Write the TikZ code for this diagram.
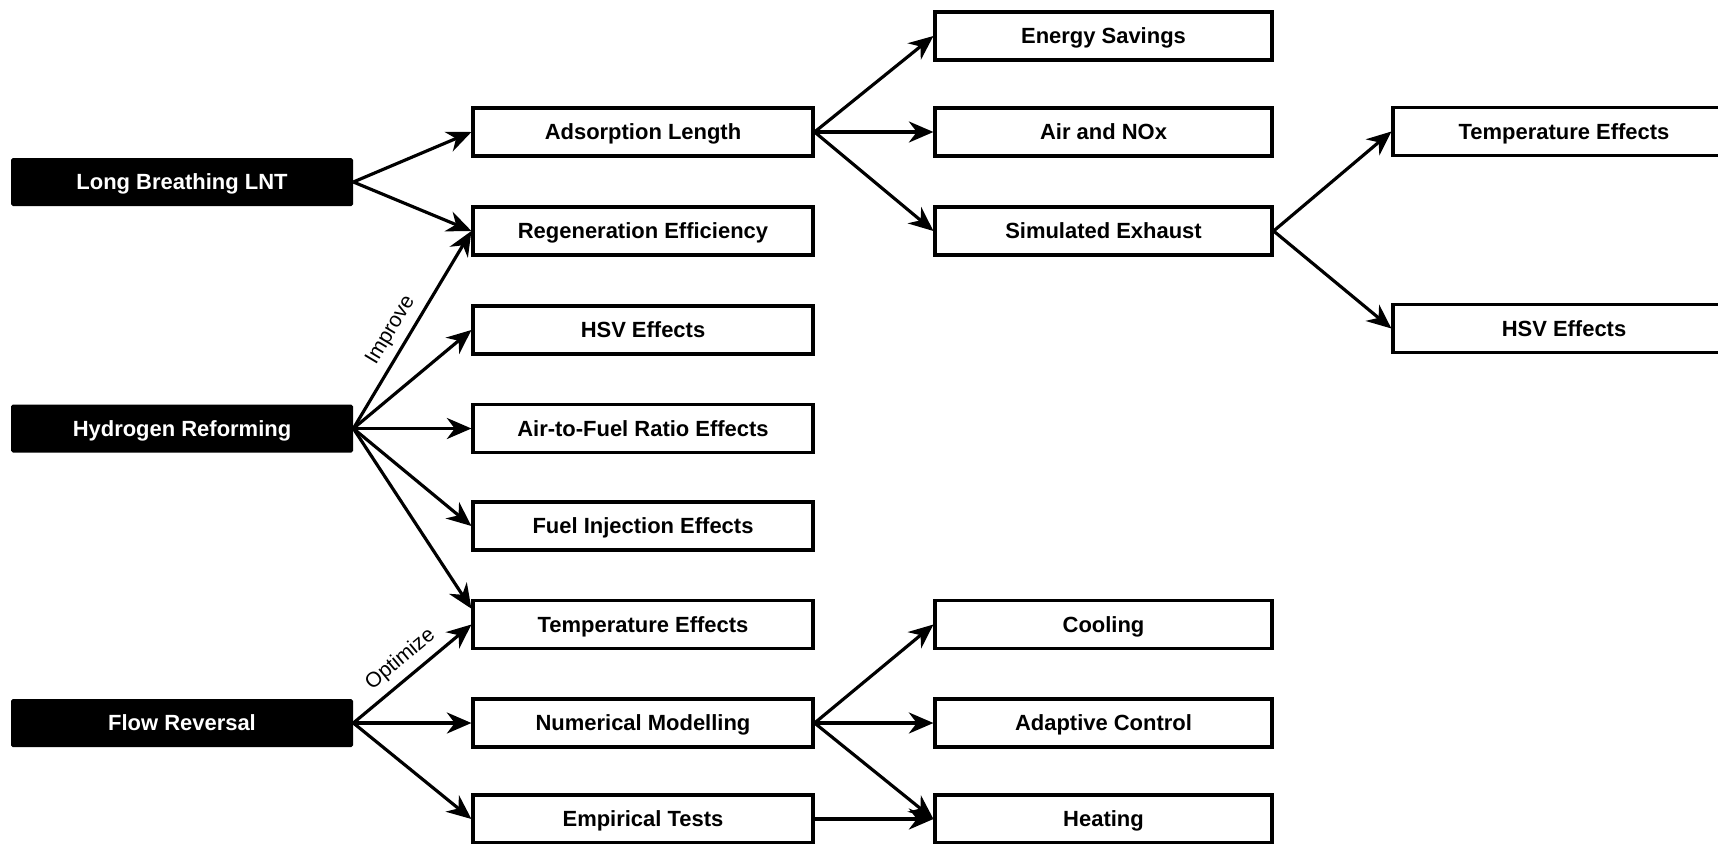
\documentclass[tikz,border=0pt]{standalone}
\usepackage{fontspec}
\setmainfont{Liberation Sans}
\usepackage{tikz}
\usetikzlibrary{calc}
\usetikzlibrary{arrows.meta}

\tikzset{
    topic/.style={fill=black, text=white, rounded corners=1pt, minimum width=6.84cm, minimum height=0.96cm, inner sep=0pt, text depth=0.5pt, font=\fontsize{12.5}{15}\selectfont\bfseries},
    item/.style={draw, line width=1.8pt, minimum width=6.8cm, minimum height=0.96cm, inner sep=0pt, text depth=0.5pt, font=\fontsize{12.5}{15}\selectfont\bfseries},
    link/.style={line width=1.8pt, -{Stealth[length=14pt, width=12pt, inset=4.5pt]}},
    tag/.style={sloped, above, inner sep=4pt, font=\fontsize{12}{14}\selectfont}
}

\begin{document}
\begin{tikzpicture}
    \useasboundingbox (0,0) rectangle (34.36,-16.86);

    \node[topic] (lnt) at (3.64, -3.64) {Long Breathing LNT};
    \node[topic] (hyd) at (3.64, -8.57) {Hydrogen Reforming};
    \node[topic] (flow) at (3.64, -14.46) {Flow Reversal};

    \node[item] (adsorb) at (12.86, -2.64) {Adsorption Length};
    \node[item] (regen) at (12.86, -4.62) {Regeneration Efficiency};
    \node[item] (hsv) at (12.86, -6.60) {HSV Effects};
    \node[item] (afr) at (12.86, -8.57) {Air-to-Fuel Ratio Effects};
    \node[item] (fuel) at (12.86, -10.52) {Fuel Injection Effects};
    \node[item] (temp) at (12.86, -12.49) {Temperature Effects};
    \node[item] (model) at (12.86, -14.46) {Numerical Modelling};
    \node[item] (tests) at (12.86, -16.38) {Empirical Tests};

    \node[item, minimum width=6.74cm] (energy) at (22.07, -0.72) {Energy Savings};
    \node[item, minimum width=6.74cm] (nox) at (22.07, -2.64) {Air and NOx};
    \node[item, minimum width=6.74cm] (exhaust) at (22.07, -4.62) {Simulated Exhaust};
    \node[item, minimum width=6.74cm] (cool) at (22.07, -12.49) {Cooling};
    \node[item, minimum width=6.74cm] (adapt) at (22.07, -14.46) {Adaptive Control};
    \node[item, minimum width=6.74cm] (heat) at (22.07, -16.38) {Heating};

    \node[item, minimum width=6.84cm] (exhtemp) at (31.28, -2.63) {Temperature Effects};
    \node[item, minimum width=6.84cm] (exhhsv) at (31.28, -6.57) {HSV Effects};

    \draw[link] (lnt.east) -- (adsorb.west);
    \draw[link] (lnt.east) -- (regen.west);

    \draw[link] (hyd.east) -- node[tag, pos=.45]{Improve} (regen.west);
    \draw[link] (hyd.east) -- (hsv.west);
    \draw[link] (hyd.east) -- (afr.west);
    \draw[link] (hyd.east) -- (fuel.west);
    \draw[link] (hyd.east) -- ([yshift=9pt]temp.west);

    \draw[link] (flow.east) -- node[tag, pos=.5]{Optimize} (temp.west);
    \draw[link] (flow.east) -- (model.west);
    \draw[link] (flow.east) -- (tests.west);

    \draw[link] (adsorb.east) -- (energy.west);
    \draw[link] (adsorb.east) -- (nox.west);
    \draw[link] (adsorb.east) -- (exhaust.west);

    \draw[link] (exhaust.east) -- (exhtemp.west);
    \draw[link] (exhaust.east) -- (exhhsv.west);

    \draw[link] (model.east) -- (cool.west);
    \draw[link] (model.east) -- (adapt.west);
    \draw[link] (model.east) -- (heat.west);
    \draw[link] (tests.east) -- (heat.west);
\end{tikzpicture}
\end{document}
